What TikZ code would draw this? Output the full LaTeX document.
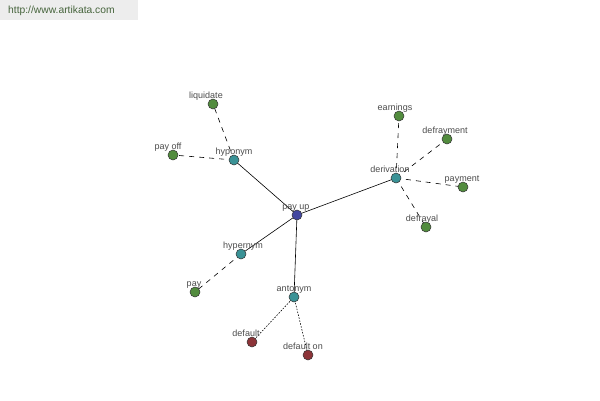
\documentclass[tikz,border=0pt]{standalone}
\usepackage{fontspec}
\setmainfont{Liberation Sans}
\begin{document}
\begin{tikzpicture}[x=1pt,y=-1pt,
  every label/.style={font=\fontsize{9}{10}\selectfont, text=black!70, inner sep=0pt, anchor=base},
  wnode/.style={circle, draw=black!80, line width=0.5pt, minimum size=10pt, inner sep=0pt, label distance=5.5pt},
  gnode/.style={wnode, fill={rgb,255:red,82;green,140;blue,62}},
  tnode/.style={wnode, fill={rgb,255:red,58;green,146;blue,150}},
  bnode/.style={wnode, fill={rgb,255:red,68;green,72;blue,160}},
  rnode/.style={wnode, fill={rgb,255:red,140;green,52;blue,56}},
  solidedge/.style={draw=black, line width=0.6pt},
  dashedge/.style={draw=black, line width=0.6pt, dash pattern=on 5pt off 5pt},
  dotedge/.style={draw=black, line width=0.6pt, dash pattern=on 1.5pt off 1.5pt}]
\useasboundingbox (0,0) rectangle (600,400);
\fill[white] (0,0) rectangle (600,400);
\fill[black!7] (0,0) rectangle (138,20);
\node[font=\fontsize{10.3}{12}\selectfont, text={rgb,255:red,70;green,100;blue,60}, anchor=west, inner sep=0pt] (url) at (8,11) {http://www.artikata.com};

\coordinate (cpu) at (297,215);
\coordinate (chypo) at (234,160);
\coordinate (cliq) at (213,104);
\coordinate (cpayoff) at (173,155);
\coordinate (cder) at (396,178);
\coordinate (cearn) at (399,116);
\coordinate (cdefm) at (447,139);
\coordinate (cpaym) at (463,187);
\coordinate (cdefl) at (426,227);
\coordinate (chyper) at (241,254);
\coordinate (cpay) at (195,292);
\coordinate (cant) at (294,297);
\coordinate (cdef) at (252,342);
\coordinate (cdefon) at (308,355);

\draw[solidedge] (cpu) -- (chypo);
\draw[solidedge] (cpu) -- (cder);
\draw[solidedge] (cpu) -- (chyper);
\draw[solidedge] (cpu) -- (cant);
\draw[dashedge] (chypo) -- (cliq);
\draw[dashedge] (chypo) -- (cpayoff);
\draw[dashedge] (cder) -- (cearn);
\draw[dashedge] (cder) -- (cdefm);
\draw[dashedge] (cder) -- (cpaym);
\draw[dashedge] (cder) -- (cdefl);
\draw[dashedge] (chyper) -- (cpay);
\draw[dotedge] (cant) -- (cdef);
\draw[dotedge] (cant) -- (cdefon);

\node[bnode, label={[xshift=-1pt]above:pay up}] (payup) at (cpu) {};
\node[tnode, label=above:hyponym] (hypo) at (chypo) {};
\node[gnode, label={[xshift=-7pt]above:liquidate}] (liq) at (cliq) {};
\node[gnode, label={[xshift=-5pt]above:pay off}] (payoff) at (cpayoff) {};
\node[tnode, label={[xshift=-6pt]above:derivation}] (der) at (cder) {};
\node[gnode, label={[xshift=-4pt]above:earnings}] (earn) at (cearn) {};
\node[gnode, label={[xshift=-2pt]above:defrayment}] (defm) at (cdefm) {};
\node[gnode, label={[xshift=-1pt]above:payment}] (paym) at (cpaym) {};
\node[gnode, label={[xshift=-4pt]above:defrayal}] (defl) at (cdefl) {};
\node[tnode, label={[xshift=2pt]above:hypernym}] (hyper) at (chyper) {};
\node[gnode, label={[xshift=-1pt]above:pay}] (pay) at (cpay) {};
\node[tnode, label=above:antonym] (ant) at (cant) {};
\node[rnode, label={[xshift=-6pt]above:default}] (def) at (cdef) {};
\node[rnode, label={[xshift=-5pt]above:default on}] (defon) at (cdefon) {};
\end{tikzpicture}
\end{document}
